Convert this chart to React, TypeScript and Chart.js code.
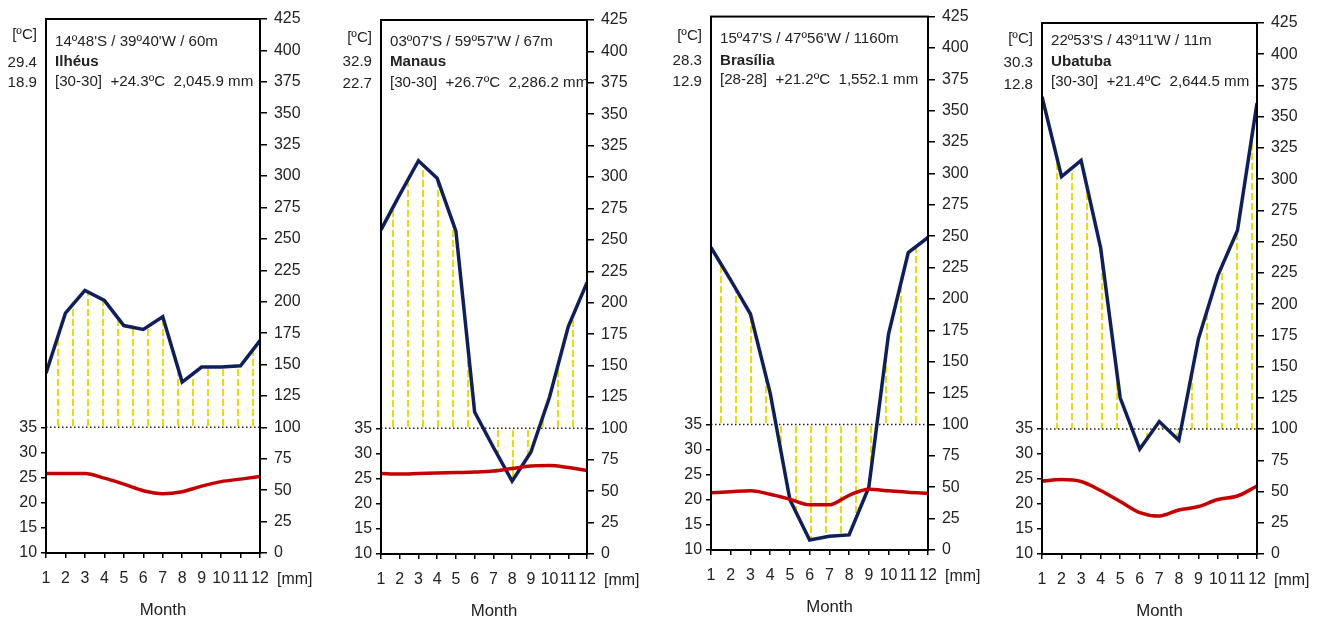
import React, { useEffect, useRef } from 'react';
import { Chart, registerables } from 'chart.js';
Chart.register(...registerables);

// ---------- data ----------
const MONTHS = [1, 2, 3, 4, 5, 6, 7, 8, 9, 10, 11, 12];

const ILHEUS_PRECIP = [143, 191, 209, 201, 181, 178, 188, 136, 148, 148, 149, 169];
const ILHEUS_TEMP = [25.8, 25.8, 25.8, 24.9, 23.7, 22.4, 21.8, 22.2, 23.3, 24.2, 24.7, 25.2];

const MANAUS_PRECIP = [258, 286, 313, 299, 257, 113, 85, 58, 81, 125, 181, 216];
const MANAUS_TEMP = [26.0, 25.9, 26.0, 26.1, 26.2, 26.3, 26.5, 27.0, 27.5, 27.6, 27.2, 26.6];

const BRASILIA_PRECIP = [241, 215, 188, 125, 40, 8, 11, 12, 50, 172, 237, 249];
const BRASILIA_TEMP = [21.4, 21.6, 21.8, 21.1, 20.1, 19.0, 19.0, 20.9, 22.1, 21.8, 21.5, 21.3];

const UBATUBA_PRECIP = [366, 302, 315, 245, 125, 84, 106, 91, 172, 223, 259, 361];
const UBATUBA_TEMP = [24.6, 24.9, 24.5, 22.7, 20.5, 18.3, 17.6, 18.8, 19.5, 20.9, 21.6, 23.6];

const STATION_NAMES = ['Ilhéus', 'Manaus', 'Brasília', 'Ubatuba'];
const STATION_COORDS = [
  "14º48'S / 39º40'W / 60m",
  "03º07'S / 59º57'W / 67m",
  "15º47'S / 47º56'W / 1160m",
  "22º53'S / 43º11'W / 11m",
];
const STATION_PERIODS = ['[30-30]', '[30-30]', '[28-28]', '[30-30]'];
const STATION_MEAN_TEMP = ['+24.3ºC', '+26.7ºC', '+21.2ºC', '+21.4ºC'];
const STATION_ANNUAL_PRECIP = ['2,045.9 mm', '2,286.2 mm', '1,552.1 mm', '2,644.5 mm'];
const STATION_TMAX = ['29.4', '32.9', '28.3', '30.3'];
const STATION_TMIN = ['18.9', '22.7', '12.9', '12.8'];

const PRECIP_SERIES = [ILHEUS_PRECIP, MANAUS_PRECIP, BRASILIA_PRECIP, UBATUBA_PRECIP];
const TEMP_SERIES = [ILHEUS_TEMP, MANAUS_TEMP, BRASILIA_TEMP, UBATUBA_TEMP];

const TEMP_TICKS = [10, 15, 20, 25, 30, 35];
const PRECIP_MAX = 425;
const PRECIP_STEP = 25;
const HUMID_LINE = 100;
// 10 ºC <-> 0 mm, 35 ºC <-> 100 mm
const TEMP_MIN = 10;
const TEMP_MAX = TEMP_MIN + PRECIP_MAX * (25 / 100);

// ---------- layout ----------
const PANELS = [
  { x: 0, w: 330, L: 46, R: 70, T: 19, B: 68, hatch: 12, text: [42, 62, 82], side: [35, 63, 83] },
  { x: 330, w: 330, L: 51, R: 73, T: 20, B: 67, hatch: 12, text: [42, 62, 83], side: [38, 62, 84] },
  { x: 660, w: 330, L: 51, R: 62, T: 16, B: 71, hatch: 10, text: [39, 61, 80], side: [36, 61, 82] },
  { x: 990, w: 335, L: 52, R: 68, T: 23, B: 67, hatch: 15, text: [41, 62, 82], side: [39, 63, 85] },
];
const H = 621;
const TEXT = '#222';
const BLUE = '#0f1f5c';
const RED = '#c40000';
const YELLOW = '#e8de00';

function pickFont() {
  const c = document.createElement('canvas').getContext('2d');
  const s = 'Month 0123456789 [mm]';
  c.font = '20px monospace';
  const mono = c.measureText(s).width;
  c.font = '20px "Liberation Sans Narrow", monospace';
  const narrow = c.measureText(s).width;
  if (Math.abs(narrow - mono) > 1) {
    return { family: '"Liberation Sans Narrow", "Liberation Sans", Arial, sans-serif', k: 1 };
  }
  return { family: '"Liberation Sans", Arial, sans-serif', k: 0.84 };
}

function ClimatePanel({ idx }: { idx: number }) {
  const ref = useRef<HTMLCanvasElement | null>(null);
  const p = PANELS[idx];

  useEffect(() => {
    const canvas = ref.current!;
    const F = pickFont();
    const fnt = (size: number, weight: string = 'normal') => ({ family: F.family, size: size * F.k, weight });
    const fstr = (size: number, weight: string = 'normal') => `${weight} ${size * F.k}px ${F.family}`;

    // hatch pattern: vertical dashed yellow lines
    const tile = document.createElement('canvas');
    tile.width = 15;
    tile.height = 10;
    const tc = tile.getContext('2d')!;
    tc.fillStyle = YELLOW;
    tc.fillRect(0, 0, 2, 7);
    const pattern = canvas.getContext('2d')!.createPattern(tile, 'repeat')!;
    pattern.setTransform(new DOMMatrix().translate(p.L + p.hatch - 1, p.T));

    const precip = PRECIP_SERIES[idx];
    const temp = TEMP_SERIES[idx];

    const deco = {
      id: 'climateDeco',
      afterDatasetsDraw(chart: any) {
        const { ctx, chartArea: a } = chart;
        const y = chart.scales.yP.getPixelForValue(HUMID_LINE);
        ctx.save();
        ctx.strokeStyle = '#222';
        ctx.lineWidth = 1.5;
        ctx.setLineDash([1.5, 2.5]);
        ctx.beginPath();
        ctx.moveTo(a.left, y);
        ctx.lineTo(a.right, y);
        ctx.stroke();
        ctx.restore();
      },
      afterDraw(chart: any) {
        const { ctx, chartArea: a } = chart;
        ctx.save();
        ctx.strokeStyle = '#000';
        ctx.lineWidth = 2;
        ctx.strokeRect(a.left, a.top, a.right - a.left, a.bottom - a.top);

        ctx.fillStyle = TEXT;
        ctx.textBaseline = 'middle';
        ctx.textAlign = 'left';
        ctx.font = fstr(18);
        ctx.fillText(STATION_COORDS[idx], a.left + 9, p.text[0]);
        ctx.font = fstr(18, 'bold');
        ctx.fillText(STATION_NAMES[idx], a.left + 9, p.text[1]);
        ctx.font = fstr(18);
        ctx.fillText(
          `${STATION_PERIODS[idx]}  ${STATION_MEAN_TEMP[idx]}  ${STATION_ANNUAL_PRECIP[idx]}`,
          a.left + 9,
          p.text[2]
        );

        ctx.textAlign = 'right';
        ctx.fillText('[ºC]', a.left - 9, p.side[0]);
        ctx.fillText(STATION_TMAX[idx], a.left - 9, p.side[1]);
        ctx.fillText(STATION_TMIN[idx], a.left - 9, p.side[2]);

        ctx.font = fstr(19);
        ctx.textAlign = 'left';
        ctx.fillText('[mm]', a.right + 17, a.bottom + 27);
        ctx.textAlign = 'center';
        ctx.font = fstr(20);
        ctx.fillText('Month', (a.left + a.right) / 2 + 10, a.bottom + 57);
        ctx.restore();
      },
    };

    const tickGrid = (len: number) => ({
      display: true,
      drawOnChartArea: false,
      drawTicks: true,
      tickLength: len,
      tickWidth: 1.5,
      tickColor: '#000',
      color: '#000',
      lineWidth: 1.5,
    });

    const chart = new Chart(canvas, {
      type: 'line',
      data: {
        datasets: [
          {
            label: 'Temperature',
            data: MONTHS.map((m, i) => ({ x: m, y: temp[i] })),
            yAxisID: 'yT',
            borderColor: RED,
            borderWidth: 3.5,
            pointRadius: 0,
            cubicInterpolationMode: 'monotone',
            fill: false,
          },
          {
            label: 'Precipitation',
            data: MONTHS.map((m, i) => ({ x: m, y: precip[i] })),
            yAxisID: 'yP',
            borderColor: BLUE,
            borderWidth: 3.5,
            borderJoinStyle: 'miter',
            pointRadius: 0,
            tension: 0,
            fill: { value: HUMID_LINE },
            backgroundColor: pattern,
          },
        ],
      },
      options: {
        responsive: false,
        animation: false,
        events: [],
        layout: { padding: { top: p.T, left: 0, right: 0, bottom: 0 } },
        plugins: { legend: { display: false }, tooltip: { enabled: false } },
        scales: {
          x: {
            type: 'linear',
            position: 'bottom',
            min: 1,
            max: 12,
            grid: tickGrid(5),
            border: { display: false },
            ticks: { stepSize: 1, autoSkip: false, maxRotation: 0, padding: 11, font: fnt(19), color: TEXT },
            afterFit: (s: any) => {
              s.height = p.B;
            },
          },
          yT: {
            type: 'linear',
            position: 'left',
            min: TEMP_MIN,
            max: TEMP_MAX,
            grid: tickGrid(5),
            border: { display: false },
            ticks: { padding: 4, font: fnt(19), color: TEXT },
            afterBuildTicks: (s: any) => {
              s.ticks = TEMP_TICKS.map((v) => ({ value: v }));
            },
            afterFit: (s: any) => {
              s.width = p.L;
            },
          },
          yP: {
            type: 'linear',
            position: 'right',
            min: 0,
            max: PRECIP_MAX,
            grid: tickGrid(7),
            border: { display: false },
            ticks: { stepSize: PRECIP_STEP, padding: 7, font: fnt(19), color: TEXT },
            afterFit: (s: any) => {
              s.width = p.R;
            },
          },
        },
      },
      plugins: [deco],
    } as any);

    return () => chart.destroy();
  }, [idx]);

  return (
    <canvas
      ref={ref}
      width={p.w}
      height={H}
      style={{ position: 'absolute', left: p.x, top: 0, width: p.w, height: H }}
    />
  );
}

export default function App() {
  return (
    <div style={{ position: 'absolute', left: 0, top: 0, width: 1325, height: H, background: '#fff', overflow: 'hidden' }}>
      {PANELS.map((_, i) => (
        <ClimatePanel key={i} idx={i} />
      ))}
    </div>
  );
}
